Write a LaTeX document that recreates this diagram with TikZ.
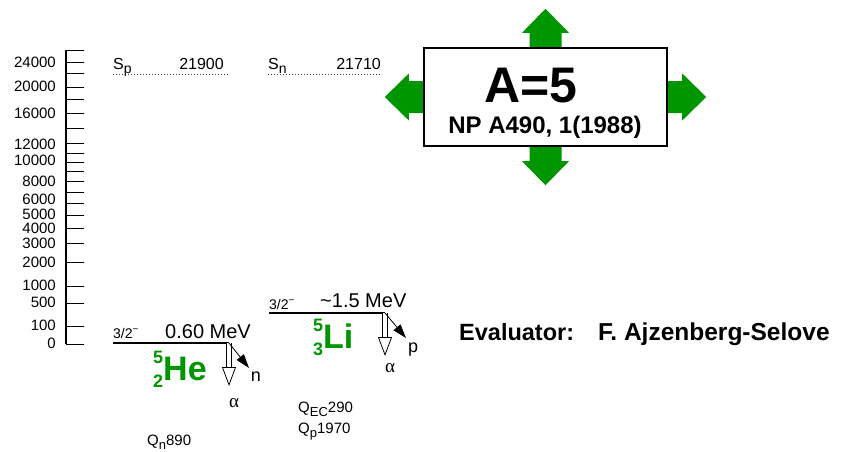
\documentclass[tikz,border=0pt]{standalone}
\usepackage{fontspec}
\setmainfont{Liberation Sans}
\newfontfamily\greekfont{Liberation Serif}
\usetikzlibrary{arrows.meta, positioning}
\definecolor{nucgreen}{RGB}{0,150,0}
\newcommand{\fs}[1]{\fontsize{#1}{#1}\selectfont}
\newcommand{\lsub}[2]{\raisebox{-0.28em}{\fs{#1}#2}}
\newcommand{\isot}[3]{{\fs{18}\rlap{\raisebox{16.5pt}{#1}}\raisebox{-7.5pt}{#2}}{\fs{34}#3}}

\begin{document}
\begin{tikzpicture}[x=1pt, y=-1pt,
      txt/.style={inner sep=0pt, font=\fs{#1}},
      txt/.default=15,
      level/.style={line width=2pt},
      sepline/.style={black!75, line width=0.9pt, dash pattern=on 1pt off 2pt},
      opendecay/.style={double, double distance=3.5pt, line width=0.8pt,
        -{Triangle[fill=white, length=19pt, width=14pt]}},
      emit/.style={line width=0.8pt, -{Triangle[length=14pt, width=9pt]}},
      nuclabel/.style={inner sep=0pt, anchor=base west, text=nucgreen, font=\bfseries},
      greek/.style={inner sep=0pt, font=\greekfont\fs{19}}
    ]
    \useasboundingbox[fill=white] (0,0) rectangle (842,451);
    % energy axis
    \draw[line width=1.2pt] (66,50) -- (66,344);
    \foreach \y in {50,62,73,87,99,113,128,143,153,162,171,181,192,203,215,228,243,262,286,303,326,344}
      \draw[line width=0.8pt] (66,\y) -- (84,\y);
    \foreach \v/\y in {24000/62, 20000/86, 16000/113, 12000/144, 10000/160, 8000/181,
        6000/199.5, 5000/214, 4000/228.5, 3000/243, 2000/262, 1000/285, 500/302, 100/325, 0/343}
      \node[txt=15, anchor=east] (ax\v) at (56,\y) {\v};

    % separation energies
    \coordinate (sp-l) at (113,74);
    \coordinate (sp-r) at (228,74);
    \coordinate (sn-l) at (268,74);
    \coordinate (sn-r) at (382,74);
    \draw[sepline] (sp-l) -- (sp-r);
    \draw[sepline] (sn-l) -- (sn-r);
    \node[txt=16, anchor=base west] (sp) at (113,69) {S\lsub{14}{p}};
    \node[txt=16, anchor=base east] (spval) at (224,69) {21900};
    \node[txt=16, anchor=base west] (sn) at (268,69) {S\lsub{14}{n}};
    \node[txt=16, anchor=base east] (snval) at (381,69) {21710};

    % 5He
    \coordinate (he-l) at (113,343);
    \coordinate (he-r) at (229,343);
    \coordinate (he-a) at (229,386);
    \coordinate (he-n) at (249,368);
    \draw[level] (he-l) -- (he-r);
    \draw[opendecay] (he-r) -- (he-a);
    \draw[emit] (he-r) -- (he-n);
    \node[txt=14, anchor=base west] (he-jp) at (113,338) {3/2\textsuperscript{−}};
    \node[txt=20, anchor=base west] (he-en) at (165,338) {0.60 MeV};
    \node[nuclabel] (he) at (153,380) {\isot{5}{2}{He}};
    \node[txt=18] (he-nlab) at (256,377) {n};
    \node[greek] (he-alab) at (234,403) {α};

    % 5Li
    \coordinate (li-l) at (269,313);
    \coordinate (li-r) at (385,313);
    \coordinate (li-a) at (385,356);
    \coordinate (li-p) at (406,338);
    \draw[level] (li-l) -- (li-r);
    \draw[opendecay] (li-r) -- (li-a);
    \draw[emit] (li-r) -- (li-p);
    \node[txt=14, anchor=base west] (li-jp) at (269,309) {3/2\textsuperscript{−}};
    \node[txt=20, anchor=base west] (li-en) at (320,307) {\textasciitilde1.5 MeV};
    \node[nuclabel] (li) at (313,348) {\isot{5}{3}{Li}};
    \node[txt=18, anchor=base] (li-plab) at (413,352) {p};
    \node[greek] (li-alab) at (390,368) {α};

    % Q-values
    \node[txt=15, anchor=base west] (qec) at (298,412) {Q\lsub{13}{EC}290};
    \node[txt=15, anchor=base west] (qp) at (298,433) {Q\lsub{13}{p}1970};
    \node[txt=15, anchor=base west] (qn) at (147,445) {Q\lsub{13}{n}890};

    % title box
    \node[minimum width=243, minimum height=98, inner sep=0pt] (box) at (545.5,97) {};
    \foreach \side/\ang in {north/90, south/-90, east/0, west/180}
      \fill[nucgreen, shift={(box.\side)}, rotate=\ang]
        (0,-16) -- (15,-16) -- (15,-23.5) -- (39,0) -- (15,23.5) -- (15,16) -- (0,16) -- cycle;
    \draw[line width=1.8pt, fill=white] (box.north west) rectangle (box.south east);
    \node[txt=50, font=\bfseries\fs{50}, anchor=base] (mass) at (531,102) {A=5};
    \node[txt=24, font=\bfseries\fs{24}, anchor=base] (ref) at (545,133) {NP A490, 1(1988)};

    \node[txt=23.5, font=\bfseries\fs{23.5}, anchor=base west] (evallabel) at (459,340) {Evaluator:};
    \node[txt=24.5, font=\bfseries\fs{24.5}, anchor=base west] (evaluator) at (598,340) {F. Ajzenberg-Selove};
\end{tikzpicture}
\end{document}
